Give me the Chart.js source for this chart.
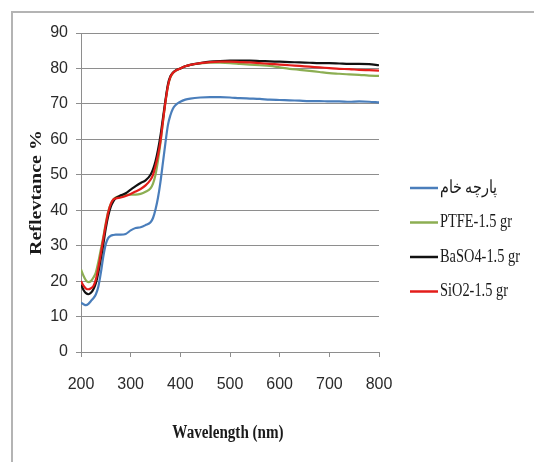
<!DOCTYPE html>
<html lang="en">
<head>
<meta charset="UTF-8">
<title>Reflectance spectra</title>
<script src="https://cdn.jsdelivr.net/npm/chart.js"></script>
<style>
  body { margin: 0; padding: 0; background: #fff; }
  .frame { position: relative; width: 534px; height: 462px; overflow: hidden; }
  .frame .edge {
    position: absolute; left: 11px; top: 11px; right: -5px; bottom: -5px;
    border-top: 2px solid #b4b4b4; border-left: 2px solid #b4b4b4;
  }
  canvas { position: absolute; left: 0; top: 0; }
</style>
</head>
<body>
<div class="frame">
  <div class="edge"></div>
  <canvas id="reflChart" width="534" height="462"></canvas>
</div>
<script>
// wavelength samples (nm)
const wavelengths = [200, 205, 210, 215, 220, 225, 230, 235, 240, 245, 250, 255, 260, 265, 270, 280, 290, 300, 310, 320,
  330, 340, 345, 350, 355, 360, 365, 370, 375, 380, 385, 390, 400, 410, 420, 440, 460, 480, 500, 520,
  540, 560, 580, 600, 620, 640, 660, 680, 700, 720, 740, 760, 780, 800];

// reflectance % for each sample
const rawFabric = [13.9, 13.5, 13.2, 13.6, 14.4, 15.2, 16.3, 18.5, 22.4, 27.0, 30.5, 32.2, 32.8, 33.0, 33.1, 33.1, 33.3, 34.3, 35.0, 35.2,
  35.8, 36.6, 37.8, 40.2, 43.5, 48.0, 53.5, 59.0, 64.0, 66.8, 68.6, 69.6, 70.6, 71.2, 71.5, 71.8, 71.9, 71.9, 71.8, 71.6,
  71.5, 71.4, 71.2, 71.1, 71.0, 70.9, 70.8, 70.8, 70.7, 70.7, 70.6, 70.7, 70.6, 70.4];
const ptfe = [23.3, 21.5, 20.2, 19.7, 20.0, 21.0, 22.5, 25.5, 29.0, 32.5, 36.5, 39.8, 41.8, 43.0, 43.6, 44.0, 44.3, 44.4, 44.4, 44.6,
  45.2, 46.2, 47.5, 50.0, 54.0, 59.0, 65.0, 70.5, 75.0, 77.5, 78.7, 79.3, 80.0, 80.6, 81.0, 81.4, 81.6, 81.6, 81.5, 81.3,
  81.1, 80.9, 80.7, 80.3, 79.9, 79.6, 79.3, 79.0, 78.7, 78.5, 78.3, 78.2, 78.0, 77.9];
const baso4 = [19.0, 17.5, 16.6, 16.3, 16.7, 17.7, 19.5, 22.5, 26.5, 30.5, 35.0, 38.5, 41.0, 42.5, 43.4, 44.2, 44.8, 45.8, 46.8, 47.7,
  48.4, 50.0, 51.5, 53.8, 57.0, 61.0, 66.0, 71.0, 75.5, 77.8, 78.8, 79.4, 80.0, 80.6, 81.0, 81.5, 81.9, 82.1, 82.2, 82.2,
  82.2, 82.1, 82.0, 81.9, 81.8, 81.7, 81.6, 81.5, 81.5, 81.4, 81.3, 81.3, 81.2, 80.9];
const sio2 = [20.0, 18.7, 17.9, 17.7, 18.0, 18.6, 20.5, 23.8, 27.8, 32.0, 36.0, 39.5, 41.8, 43.0, 43.3, 43.6, 44.0, 44.6, 45.3, 46.0,
  47.0, 48.6, 50.0, 52.5, 55.5, 59.5, 65.0, 70.5, 75.0, 77.6, 78.7, 79.3, 80.0, 80.6, 81.0, 81.5, 81.8, 81.9, 81.9, 81.8,
  81.7, 81.5, 81.3, 81.1, 80.9, 80.7, 80.5, 80.3, 80.1, 79.9, 79.8, 79.6, 79.5, 79.4];

const seriesNames = ['پارچه خام', 'PTFE-1.5 gr', 'BaSO4-1.5 gr', 'SiO2-1.5 gr'];
const seriesValues = [rawFabric, ptfe, baso4, sio2];
const seriesColors = ['#4a7ebb', '#8cae52', '#111111', '#e31d1a'];

const xTitle = 'Wavelength (nm)';
const yTitle = 'Reflevtance %';

const gridColor = '#8e8e8e';
const textColor = '#1a1a1a';
const squeeze = 0.8;   // text in this chart is drawn narrow

// titles and legend are painted by hand so the lettering can be narrowed
const chartText = {
  id: 'chartText',
  afterDraw(chart) {
    const { ctx, chartArea } = chart;

    ctx.save();
    ctx.fillStyle = textColor;
    ctx.translate(37, (chartArea.top + chartArea.bottom) / 2);
    ctx.rotate(-Math.PI / 2);
    ctx.scale(1, 0.85);
    ctx.font = 'bold 20px "Liberation Serif", serif';
    ctx.textAlign = 'center';
    ctx.textBaseline = 'middle';
    ctx.fillText(yTitle, 0, 0);
    ctx.restore();

    ctx.save();
    ctx.fillStyle = textColor;
    ctx.translate((chartArea.left + chartArea.right) / 2 - 2, 433);
    ctx.scale(0.84, 1);
    ctx.font = 'bold 18px "Liberation Serif", serif';
    ctx.textAlign = 'center';
    ctx.textBaseline = 'middle';
    ctx.fillText(xTitle, 0, 0);
    ctx.restore();

    // legend
    const legendTop = 188;
    const legendStep = 34.5;
    seriesNames.forEach((name, i) => {
      const y = legendTop + i * legendStep;
      ctx.save();
      ctx.strokeStyle = seriesColors[i];
      ctx.lineWidth = 2.5;
      ctx.beginPath();
      ctx.moveTo(410, y);
      ctx.lineTo(438, y);
      ctx.stroke();
      ctx.translate(440, y);
      ctx.scale(squeeze, 1);
      ctx.fillStyle = textColor;
      ctx.font = '18px "Liberation Serif", "DejaVu Serif", serif';
      ctx.textAlign = 'left';
      ctx.textBaseline = 'middle';
      ctx.fillText(name, 0, 0);
      ctx.restore();
    });
  }
};

const tickFont = { family: '"Liberation Sans Narrow", "Liberation Sans", sans-serif', size: 16 };

new Chart(document.getElementById('reflChart'), {
  type: 'line',
  data: {
    datasets: seriesNames.map((name, i) => ({
      label: name,
      data: wavelengths.map((w, j) => ({ x: w, y: seriesValues[i][j] })),
      borderColor: seriesColors[i],
      backgroundColor: seriesColors[i],
      borderWidth: 2.2,
      pointRadius: 0,
      cubicInterpolationMode: 'monotone',
      fill: false,
      order: seriesNames.length - i
    }))
  },
  options: {
    responsive: false,
    animation: false,
    layout: { padding: { left: 0, top: 33, right: 155, bottom: 0 } },
    plugins: {
      legend: { display: false },
      tooltip: { enabled: false }
    },
    scales: {
      x: {
        type: 'linear',
        min: 200,
        max: 800,
        ticks: { stepSize: 100, padding: 18, color: '#2a2a2a', font: tickFont, maxRotation: 0 },
        grid: { drawOnChartArea: false, tickLength: 5, color: gridColor },
        border: { color: gridColor, width: 1 },
        afterFit(scale) { scale.height = 110; }
      },
      y: {
        min: 0,
        max: 90,
        ticks: { stepSize: 10, padding: 8, color: '#2a2a2a', font: tickFont },
        grid: { tickLength: 5, color: gridColor },
        border: { color: gridColor, width: 1 },
        afterFit(scale) { scale.width = 81; }
      }
    }
  },
  plugins: [chartText]
});
</script>
</body>
</html>
